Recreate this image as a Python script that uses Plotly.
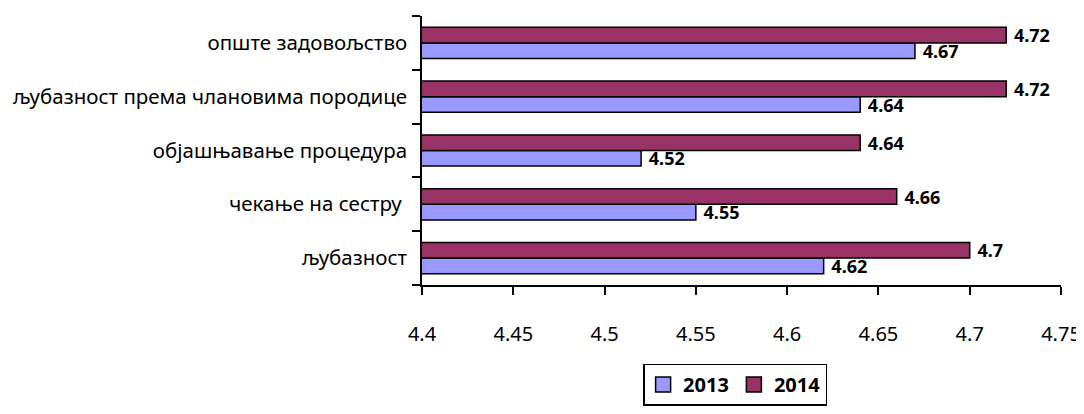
import plotly.graph_objects as go

categories = ["љубазност", "чекање на сестру ", "објашњавање процедура",
              "љубазност према члановима породице", "опште задовољство"]
values_2013 = [4.62, 4.55, 4.52, 4.64, 4.67]
values_2014 = [4.7, 4.66, 4.64, 4.72, 4.72]
x_ticks = [4.4, 4.45, 4.5, 4.55, 4.6, 4.65, 4.7, 4.75]
series_names = ["2013", "2014"]
series_colors = ["#9999FF", "#993366"]

FONT = "Noto Sans"
GAP = "\u00a0"

fig = go.Figure()
for name, vals, color in zip(series_names, [values_2013, values_2014], series_colors):
    fig.add_trace(go.Bar(
        y=categories, x=vals, name=name, orientation="h", showlegend=False,
        legendgroup=name,
        marker=dict(color=color, line=dict(color="black", width=1.5)),
        text=[GAP + str(v) for v in vals], textposition="outside", cliponaxis=False,
        constraintext="none",
        textfont=dict(family=FONT, size=18, color="black", weight="bold"),
    ))
# legend entries with larger square swatches
for name, color in zip(series_names, series_colors):
    fig.add_trace(go.Scatter(
        x=[None], y=[None], mode="markers", name=name, legendgroup=name,
        marker=dict(symbol="square", size=15, color=color, line=dict(color="black", width=1.5)),
    ))

# page body has an 8px default margin, so the figure is sized to fit the window
fig.update_layout(
    width=1076, height=406,
    margin=dict(l=414, r=23, t=8, b=122),
    paper_bgcolor="white", plot_bgcolor="white",
    barmode="group", bargap=0.42, bargroupgap=0,
    font=dict(family=FONT, color="black"),
    showlegend=True,
    legend=dict(orientation="h", x=0.49, xanchor="center", y=-0.37, yanchor="middle",
                bordercolor="black", borderwidth=1.5,
                font=dict(family=FONT, size=20, color="black", weight="bold"),
                itemwidth=30, tracegroupgap=0),
    xaxis=dict(range=[4.4, 4.75], tickvals=x_ticks, ticktext=[str(t) for t in x_ticks],
               showgrid=False, zeroline=False, showline=True, linecolor="black", linewidth=1.5,
               ticks="outside", ticklen=8, tickcolor="black", tickwidth=1.5, automargin=False,
               ticklabelstandoff=22,
               tickfont=dict(family=FONT, size=20, color="black")),
    yaxis=dict(type="category", showgrid=False, showline=True, linecolor="black", linewidth=1.5,
               ticks="outside", ticklen=8, tickcolor="black", tickwidth=1.5, tickson="boundaries",
               ticklabelstandoff=9, automargin=False, categoryorder="array",
               categoryarray=categories,
               tickfont=dict(family=FONT, size=20.5, color="black")),
)

fig.write_html("out.html")
